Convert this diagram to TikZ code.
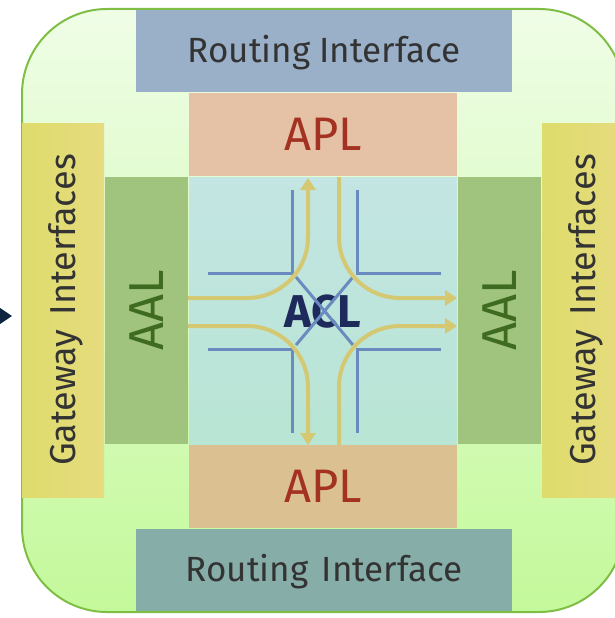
\documentclass[tikz,border=0pt]{standalone}
\usepackage{fontspec}
\setmainfont{Fira Sans}
\usetikzlibrary{arrows.meta}
\definecolor{outerline}{HTML}{7FBE45}
\definecolor{outertop}{HTML}{EFFDE6}
\definecolor{outerbot}{HTML}{C4F99B}
\definecolor{routetop}{HTML}{9AB0C8}
\definecolor{routebot}{HTML}{86ADA7}
\definecolor{apltop}{HTML}{E5C1A5}
\definecolor{aplbot}{HTML}{DBC092}
\definecolor{acltop}{HTML}{C3E5E3}
\definecolor{aclbot}{HTML}{B8E5D4}
\definecolor{aalgreen}{HTML}{A0C47E}
\definecolor{gwtop}{HTML}{E6DB7E}
\definecolor{gwbot}{HTML}{DEDC6C}
\definecolor{textgray}{HTML}{333333}
\definecolor{aplred}{HTML}{A33222}
\definecolor{aaldark}{HTML}{3E6B1F}
\definecolor{aclnavy}{HTML}{1E2A5C}
\definecolor{laneblue}{HTML}{6A8BC0}
\definecolor{flowyellow}{HTML}{D5C872}
\definecolor{entrynavy}{HTML}{0F2440}

\begin{document}
\begin{tikzpicture}[
    x=1pt, y=-1pt,
    panel/.style={inner sep=0pt, outer sep=0pt, text depth=0pt},
    routing/.style={panel, fill=#1, minimum width=376pt, minimum height=82pt, text height=24pt, text=textgray, font=\fontsize{35}{40}\selectfont},
    apl/.style={panel, fill=#1, minimum width=268pt, minimum height=83pt, text height=32pt, text=aplred, font=\fontsize{47}{50}\selectfont},
    aal/.style={panel, fill=aalgreen, minimum width=267pt, minimum height=83pt, text height=34pt, text=aaldark, font=\fontsize{49}{54}\selectfont},
    gateway/.style={panel, left color=gwbot, right color=gwtop, minimum width=374pt, minimum height=82pt, text height=25pt, text=textgray, font=\fontsize{36}{40}\selectfont},
    lane/.style={line width=3pt, color=laneblue},
    flow/.style={line width=4pt, color=flowyellow, rounded corners=61pt, -{Triangle[width=15pt,length=12pt]}},
]
\useasboundingbox (0,0) rectangle (615,618);
\clip (0,0) rectangle (615,618);

% Outer frame
\node[panel, draw=outerline, line width=2pt, rounded corners=85pt, top color=outertop, bottom color=outerbot,
      minimum width=602pt, minimum height=603pt] (outer) at (323,310.5) {};

% Routing interfaces
\node[routing=routetop] (routeN) at (324,51) {Routing Interface};
\node[routing=routebot] (routeS) at (324,569.5) {Routing\hspace{0.12em} Interface};

% Gateway interfaces
\node[gateway, rotate=90] (gwW) at (63,310) {Gateway\hspace{0.12em} Interfaces};
\node[gateway, rotate=90] (gwE) at (583,310) {Gateway\hspace{0.12em} Interfaces};

% APL
\node[apl=apltop] (aplN) at (323,134.5) {APL};
\node[apl=aplbot] (aplS) at (323,486.5) {APL};

% AAL
\node[aal, rotate=90] (aalW) at (146.5,310.5) {AAL};
\node[aal, rotate=90] (aalE) at (499.5,310.5) {AAL};

% ACL core
\node[panel, top color=acltop, bottom color=aclbot, minimum width=268pt, minimum height=267pt,
      text height=33pt, text=aclnavy, font=\fontsize{46}{52}\selectfont\bfseries] (acl) at (323,310.5) {ACL};

% Lanes
\draw[lane] (208,273) -- (292,273) -- (292,190);
\draw[lane] (441,273) -- (357,273) -- (357,190);
\draw[lane] (208,349) -- (292,349) -- (292,433);
\draw[lane] (441,349) -- (357,349) -- (357,433);
\draw[lane] (296,277) -- (353,345);
\draw[lane] (353,277) -- (296,345);

% Flows
\draw[flow] (188,298) -- (308,298) -- (308,178);
\draw[flow] (339,177) -- (339,298) -- (457,298);
\draw[flow] (188,326) -- (308,326) -- (308,445);
\draw[flow] (339,445) -- (339,326) -- (457,326);

% Entry arrow
\coordinate (entry) at (-40,316);
\draw[line width=2pt, color=entrynavy, -{Triangle[width=17pt,length=13pt]}, shorten >=10pt] (entry) -- (entry -| outer.west);

\end{tikzpicture}
\end{document}
